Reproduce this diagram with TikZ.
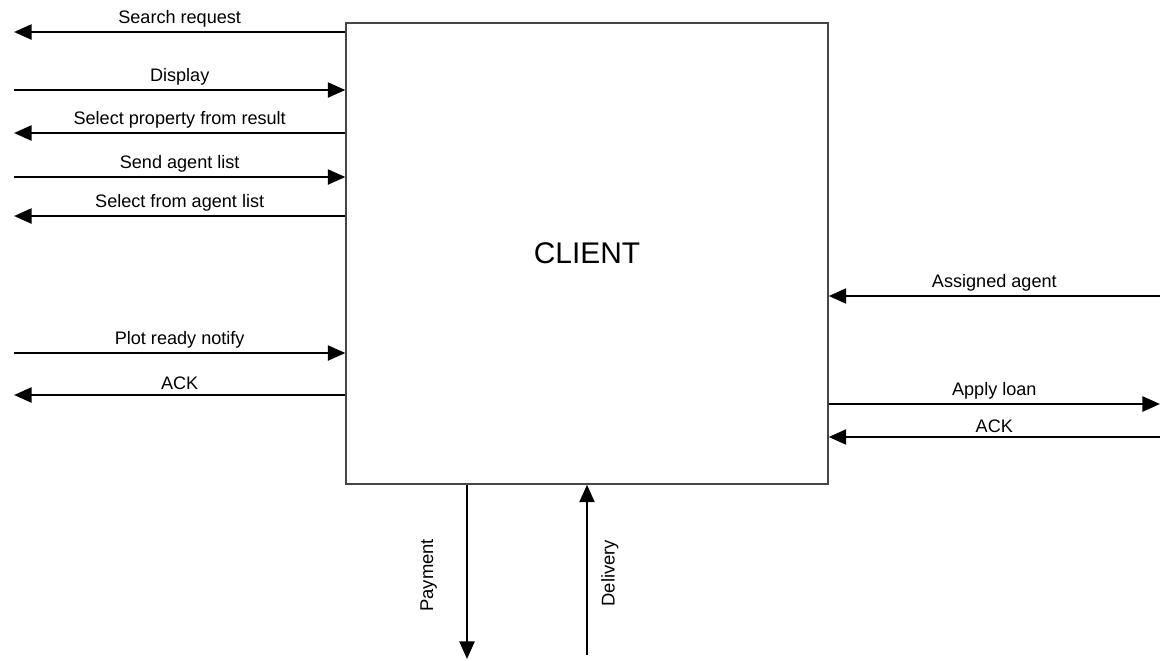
\documentclass[tikz,border=0pt]{standalone}
\usepackage{fontspec}
\setmainfont{Liberation Sans}
\usepackage{tikz}
\usetikzlibrary{arrows.meta,positioning,calc}
\definecolor{boxgray}{RGB}{70,70,70}

\begin{document}
\begin{tikzpicture}[x=0.02cm,y=-0.02cm,>={Triangle[length=10pt,width=8.5pt]},font=\fontsize{10.3}{12}\selectfont,
  flow/.style={->,line width=1.5pt},
  lbl/.style={midway,above=1pt,inner sep=1pt}]
  \useasboundingbox (0,0) rectangle (1166,660);
  \node[draw=boxgray,line width=0.8pt,minimum width=9.64cm,minimum height=9.22cm,
        font=\fontsize{17}{20}\selectfont] (client) at (587,253.5) {CLIENT};
  % left side
  \coordinate (sreq) at (14,32);
  \coordinate (disp) at (14,90);
  \coordinate (sprop) at (14,133);
  \coordinate (alist) at (14,177);
  \coordinate (sagent) at (14,216);
  \coordinate (plot) at (14,353);
  \coordinate (ackl) at (14,395);
  \draw[flow] (sreq -| client.west) -- (sreq) node[lbl]{Search request};
  \draw[flow] (disp) -- (disp -| client.west) node[lbl]{Display};
  \draw[flow] (sprop -| client.west) -- (sprop) node[lbl]{Select property from result};
  \draw[flow] (alist) -- (alist -| client.west) node[lbl]{Send agent list};
  \draw[flow] (sagent -| client.west) -- (sagent) node[lbl]{Select from agent list};
  \draw[flow] (plot) -- (plot -| client.west) node[lbl]{Plot ready notify};
  \draw[flow] (ackl -| client.west) -- (ackl) node[lbl]{ACK};
  % right side
  \coordinate (asg) at (1160,296);
  \coordinate (loan) at (1160,404);
  \coordinate (ackr) at (1160,437);
  \draw[flow] (asg) -- (asg -| client.east) node[lbl]{Assigned agent};
  \draw[flow] (loan -| client.east) -- (loan) node[lbl]{Apply loan};
  \draw[flow] (ackr) -- (ackr -| client.east) node[lbl]{ACK};
  % bottom
  \coordinate (pay) at (467,659);
  \coordinate (dlv) at (587,655);
  \draw[flow] (pay |- client.south) -- (pay) node[pos=0.52,left=13pt,rotate=90,anchor=south,font=\fontsize{10.5}{12}\selectfont]{Payment};
  \draw[flow] (dlv) -- (dlv |- client.south) node[pos=0.48,right=4pt,rotate=90,anchor=north,font=\fontsize{10.5}{12}\selectfont]{Delivery};
\end{tikzpicture}
\end{document}
